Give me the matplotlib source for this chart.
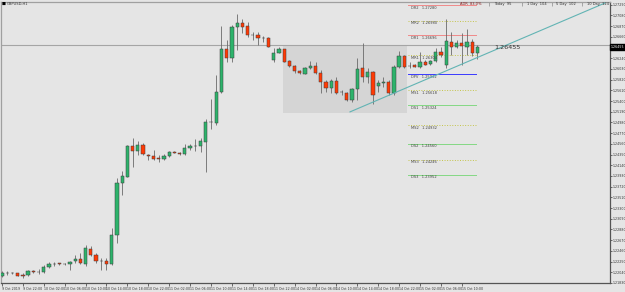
import matplotlib
matplotlib.use("Agg")
import matplotlib.pyplot as plt
import matplotlib.transforms as mtransforms
from matplotlib.patches import Rectangle

# GBPUSD H1 candles (9 Oct 18:00 .. 15 Oct 13:00)
opens = [1.21972, 1.22025, 1.22021, 1.22025, 1.21986, 1.21978, 1.22065, 1.22045, 1.22037, 1.22143,
         1.22208, 1.22214, 1.22198, 1.22194, 1.22253, 1.22306, 1.22208, 1.22496, 1.22384, 1.22266,
         1.22266, 1.22202, 1.22776, 1.23789, 1.23919, 1.24526, 1.24422, 1.24540, 1.24344, 1.24324,
         1.24279, 1.24272, 1.24324, 1.24409, 1.24389, 1.24364, 1.24475, 1.24520, 1.24526, 1.24605,
         1.24985, 1.24965, 1.25585, 1.26416, 1.26239, 1.26859, 1.26925, 1.26872, 1.26696, 1.26696,
         1.26643, 1.26643, 1.26206, 1.26349, 1.26416, 1.26186, 1.26088, 1.25996, 1.25932, 1.26043,
         1.26094, 1.25945, 1.25781, 1.25651, 1.25800, 1.25585, 1.25553, 1.25412, 1.25632, 1.26043,
         1.25867, 1.25977, 1.25696, 1.25749, 1.25781, 1.25565, 1.26075, 1.26284, 1.26094, 1.26108,
         1.26063, 1.26173, 1.26122, 1.26186, 1.26369, 1.26108, 1.26565, 1.26467, 1.26533, 1.26467,
         1.26553, 1.26337]
highs = [1.22061, 1.22057, 1.22051, 1.22031, 1.22025, 1.22080, 1.22090, 1.22104, 1.22188, 1.22233,
         1.22233, 1.22227, 1.22217, 1.22257, 1.22384, 1.22417, 1.22580, 1.22560, 1.22417, 1.22319,
         1.22319, 1.22907, 1.23893, 1.24036, 1.24540, 1.24683, 1.24624, 1.24573, 1.24364, 1.24442,
         1.24344, 1.24364, 1.24422, 1.24422, 1.24403, 1.24560, 1.24560, 1.24652, 1.24671, 1.25044,
         1.25436, 1.25912, 1.26872, 1.26598, 1.26892, 1.27108, 1.27004, 1.26957, 1.26761, 1.26749,
         1.26676, 1.26647, 1.26435, 1.26467, 1.26422, 1.26206, 1.26108, 1.26010, 1.26069, 1.26192,
         1.26173, 1.26010, 1.25814, 1.25834, 1.25879, 1.25618, 1.25579, 1.25657, 1.26239, 1.26533,
         1.26043, 1.25990, 1.25814, 1.25879, 1.25814, 1.26108, 1.26388, 1.26304, 1.26173, 1.26118,
         1.26369, 1.26206, 1.26196, 1.26435, 1.26467, 1.27004, 1.26761, 1.26598, 1.26729, 1.26808,
         1.26618, 1.26500]
lows = [1.21943, 1.21992, 1.22002, 1.21963, 1.21927, 1.21972, 1.22025, 1.22006, 1.22025, 1.22123,
        1.22168, 1.22188, 1.22188, 1.22090, 1.22221, 1.22208, 1.22168, 1.22351, 1.22221, 1.22090,
        1.22090, 1.22188, 1.22613, 1.23560, 1.23913, 1.24115, 1.24344, 1.24344, 1.24246, 1.24246,
        1.24213, 1.24246, 1.24311, 1.24377, 1.24344, 1.24344, 1.24442, 1.24428, 1.24409, 1.24017,
        1.24848, 1.24932, 1.25559, 1.26173, 1.26167, 1.26402, 1.26729, 1.26663, 1.26598, 1.26500,
        1.26565, 1.26461, 1.26173, 1.26337, 1.26167, 1.26075, 1.25957, 1.25932, 1.25922, 1.26024,
        1.25932, 1.25553, 1.25585, 1.25553, 1.25540, 1.25520, 1.25393, 1.25383, 1.25422, 1.25781,
        1.25749, 1.25344, 1.25585, 1.25683, 1.25520, 1.25520, 1.26043, 1.26043, 1.26043, 1.26059,
        1.26043, 1.26098, 1.26108, 1.26173, 1.26271, 1.26043, 1.26304, 1.26435, 1.26108, 1.26304,
        1.26284, 1.26220]
closes = [1.22025, 1.22021, 1.22025, 1.21972, 1.21972, 1.22070, 1.22037, 1.22041, 1.22143, 1.22208,
          1.22204, 1.22194, 1.22202, 1.22241, 1.22306, 1.22221, 1.22515, 1.22384, 1.22253, 1.22263,
          1.22202, 1.22776, 1.23789, 1.23932, 1.24526, 1.24422, 1.24540, 1.24364, 1.24330, 1.24272,
          1.24260, 1.24324, 1.24397, 1.24383, 1.24358, 1.24475, 1.24520, 1.24517, 1.24618, 1.24985,
          1.24981, 1.25585, 1.26416, 1.26239, 1.26859, 1.26925, 1.26859, 1.26696, 1.26692, 1.26643,
          1.26639, 1.26467, 1.26349, 1.26416, 1.26173, 1.26088, 1.25990, 1.25945, 1.26055, 1.26094,
          1.25945, 1.25781, 1.25651, 1.25800, 1.25565, 1.25581, 1.25412, 1.25632, 1.26024, 1.25879,
          1.25977, 1.25520, 1.25749, 1.25781, 1.25565, 1.26075, 1.26284, 1.26075, 1.26090, 1.26075,
          1.26161, 1.26108, 1.26186, 1.26369, 1.26304, 1.26578, 1.26467, 1.26533, 1.26480, 1.26553,
          1.26337, 1.26455]

x_labels = ["9 Oct 2019", "9 Oct 22:00", "10 Oct 02:00", "10 Oct 06:00", "10 Oct 10:00",
            "10 Oct 14:00", "10 Oct 18:00", "10 Oct 22:00", "11 Oct 02:00", "11 Oct 06:00",
            "11 Oct 10:00", "11 Oct 14:00", "11 Oct 18:00", "11 Oct 22:00", "14 Oct 02:00",
            "14 Oct 06:00", "14 Oct 10:00", "14 Oct 14:00", "14 Oct 18:00", "14 Oct 22:00",
            "15 Oct 02:00", "15 Oct 06:00", "15 Oct 10:00"]
x_label_bars = [0, 4, 8, 12, 16, 20, 24, 28, 32, 36, 40, 44, 48, 52, 56, 60, 64, 68, 72, 76, 80, 84, 88]

y_ticks = [1.27290, 1.27080, 1.26870, 1.26660, 1.26240, 1.26030, 1.25820, 1.25610, 1.25400,
           1.25190, 1.24980, 1.24770, 1.24560, 1.24350, 1.24140, 1.23930, 1.23720, 1.23510,
           1.23300, 1.23090, 1.22880, 1.22670, 1.22460, 1.22250, 1.22040, 1.21830]

# daily pivot levels
level_names = ["DR2", "MR2", "DR1", "MR1", "DPV", "MS1", "DS1", "MS2", "DS2", "MS3", "DS3"]
level_values = [1.27280, 1.26980, 1.26696, 1.26304, 1.25932, 1.25618, 1.25324, 1.24932,
                1.24560, 1.24246, 1.23952]

last_price = 1.26455
ask_price = 1.26500

# trendline and range box (bar index, price)
trend_x = [66.6, 115.4]
trend_y = [1.25187, 1.27323]
box_x = [53.8, 77.5]
box_y = [1.25167, 1.26500]

info_parts = ["ADR  83.0%", "|", "Today  95", "|", "1 Day  104", "|", "5 Day  102", "|", "10 Day  124"]

bg = "#e5e5e5"
up = "#2db36b"
down = "#ff3a05"

fig = plt.figure(figsize=(6.25, 2.92), dpi=100, facecolor=bg)
ax = fig.add_axes([1 / 625, 9 / 292, 609 / 625, 281 / 292], facecolor=bg)

ax.add_patch(Rectangle((box_x[0], box_y[0]), box_x[1] - box_x[0], box_y[1] - box_y[0],
                       facecolor="#d5d5d5", edgecolor="none", zorder=1))
ax.axhline(ask_price, color="#a5a5a5", lw=0.8, zorder=2)

for i in range(len(opens)):
    o, h, l, c = opens[i], highs[i], lows[i], closes[i]
    ax.vlines(i, l, h, color="#6a6a6a", lw=0.6, zorder=3)
    col = up if c >= o else down
    height = max(abs(c - o), 0.00002)
    ax.bar(i, height, 0.62, min(o, c), color=col, edgecolor="#3c3c3c", lw=0.35, zorder=4)

# pivot lines
for name, val in zip(level_names, level_values):
    if name == "DPV":
        col, ls = "#3a3aff", "-"
    elif name.startswith("DR"):
        col, ls = "#f08a8a", "-"
    elif name.startswith("DS"):
        col, ls = "#84d884", "-"
    else:
        col, ls = "#c4c44a", ":"
    ax.plot([77.7, 90.8], [val, val], color=col, ls=ls, lw=0.7, zorder=2)
    ax.text(78.2, val - 0.00012, f"{name}   {val:.5f}", fontsize=2.6, color="#444444",
            va="top", ha="left", zorder=5)

ax.plot(trend_x, trend_y, color="#62b4b4", lw=0.8, zorder=5)
ax.text(94.2, last_price - 0.0001, f"{last_price:.5f}", fontsize=4.6, color="#333333",
        va="center", ha="left", zorder=5)

ax.set_xlim(-0.19, 116.36)
ax.set_ylim(1.21835, 1.27343)

ax.yaxis.tick_right()
ax.set_yticks(y_ticks)
ax.set_yticklabels([f"{v:.5f}" for v in y_ticks])
ax.set_xticks(x_label_bars)
ax.set_xticklabels(x_labels, ha="left")
ax.tick_params(axis="both", labelsize=2.3, colors="#333333", length=2, width=0.5, pad=0.8)
ax.tick_params(axis="y", length=1.5, pad=0.5)

for side in ["right", "bottom"]:
    ax.spines[side].set_color("#555555")
    ax.spines[side].set_linewidth(0.9)
for side in ["left", "top"]:
    ax.spines[side].set_color("#a0a0a0")
    ax.spines[side].set_linewidth(0.9)

trans = mtransforms.blended_transform_factory(ax.transAxes, ax.transData)
ax.text(1.0015, last_price, f"{last_price:.5f}", transform=trans, fontsize=2.3, color="white",
        va="center", ha="left", zorder=6,
        bbox=dict(boxstyle="square,pad=0.3", facecolor="black", edgecolor="black"))

# symbol caption and ADR info
fig.text(2 / 625, 1 - 4 / 292, "\u25a0", fontsize=3, color="black", va="center", ha="left")
fig.text(7 / 625, 1 - 4 / 292, "GBPUSD,H1", fontsize=2.6, color="#333333", va="center", ha="left")
info_x = [460, 488, 494, 521, 527, 551, 556, 581, 587]
for px, part in zip(info_x, info_parts):
    col = "#8b1a1a" if part.startswith("ADR") else "#333333"
    fig.text(px / 625, 1 - 4 / 292, part, fontsize=2.6, color=col, va="center", ha="left")

fig.savefig("out.png", dpi=100, facecolor=bg)
